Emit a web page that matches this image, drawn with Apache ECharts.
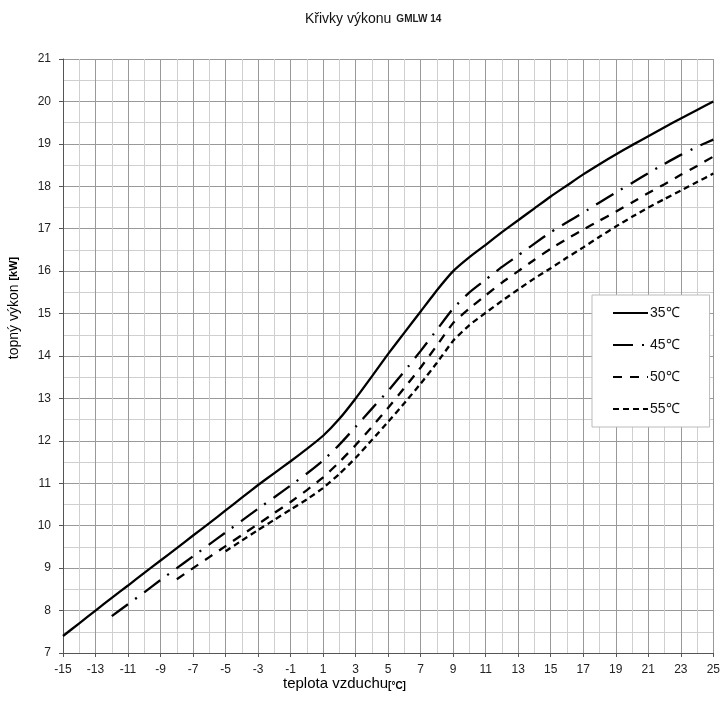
<!DOCTYPE html>
<html>
<head>
<meta charset="utf-8">
<title>Křivky výkonu GMLW 14</title>
<script src="https://cdn.jsdelivr.net/npm/echarts@6/dist/echarts.min.js"></script>
<style>
  html, body { margin: 0; padding: 0; background: #fff; }
  #chart { width: 723px; height: 714px; }
</style>
</head>
<body>
<div id="chart"></div>
<script>
// outside temperature [°C], one point per degree
const temps = [-15, -14, -13, -12, -11, -10, -9, -8, -7, -6, -5, -4, -3, -2, -1, 0, 1, 2, 3, 4,
  5, 6, 7, 8, 9, 10, 11, 12, 13, 14, 15, 16, 17, 18, 19, 20, 21, 22, 23, 24, 25];

// heating output [kW] per flow temperature (null = curve not defined there)
const out35 = [7.40, 7.70, 8.00, 8.30, 8.59, 8.89, 9.18, 9.47, 9.77, 10.06, 10.36, 10.66, 10.96, 11.24, 11.52,
  11.81, 12.12, 12.52, 13.00, 13.52, 14.05, 14.55, 15.05, 15.55, 16.00, 16.33, 16.62, 16.92, 17.20, 17.48,
  17.76, 18.02, 18.28, 18.52, 18.75, 18.97, 19.18, 19.39, 19.60, 19.80, 20.00];
const out45 = [null, null, null, 7.87, 8.15, 8.43, 8.72, 9.00, 9.28, 9.56, 9.84, 10.12, 10.40, 10.67, 10.95,
  11.23, 11.54, 11.91, 12.33, 12.76, 13.18, 13.64, 14.12, 14.62, 15.12, 15.50, 15.80, 16.10, 16.37, 16.65,
  16.92, 17.15, 17.38, 17.62, 17.85, 18.08, 18.31, 18.53, 18.74, 18.93, 19.10];
const out50 = [null, null, null, null, null, null, null, 8.74, 9.00, 9.26, 9.52, 9.78, 10.04, 10.30, 10.56,
  10.84, 11.14, 11.50, 11.90, 12.33, 12.78, 13.25, 13.73, 14.25, 14.78, 15.12, 15.43, 15.73, 16.00, 16.27,
  16.53, 16.76, 16.98, 17.19, 17.40, 17.62, 17.84, 18.05, 18.27, 18.48, 18.70];
const out55 = [null, null, null, null, null, null, null, null, null, null, 9.40, 9.65, 9.90, 10.14, 10.38,
  10.62, 10.89, 11.22, 11.60, 12.02, 12.45, 12.89, 13.35, 13.84, 14.36, 14.73, 15.02, 15.30, 15.57, 15.83,
  16.07, 16.32, 16.56, 16.81, 17.05, 17.28, 17.50, 17.70, 17.90, 18.10, 18.30];

const seriesNames = ["35℃", "45℃", "50℃", "55℃"];

const font = "Liberation Sans, Arial, sans-serif";
const chart = echarts.init(document.getElementById("chart"));

const pairs = (vals) => temps.map((t, i) => [t, vals[i]]).filter((p) => p[1] !== null);

const makeLine = (name, vals, dash) => ({
  name: name,
  type: "line",
  data: pairs(vals),
  symbol: "none",
  smooth: 0.15,
  color: "#000",
  lineStyle: { color: "#000", width: 2.3, type: dash, cap: "butt" },
  animation: false,
});

const options = {
  animation: false,
  title: {
    text: "{a|Křivky výkonu} {b|GMLW 14}",
    left: 300,
    top: 5,
    textStyle: {
      fontWeight: "normal",
      rich: {
        a: { fontFamily: font, fontSize: 14, fontWeight: "normal", color: "#111" },
        b: { fontFamily: font, fontSize: 10, fontWeight: "bold", color: "#222" },
      },
    },
  },
  grid: { left: 63, right: 5, top: 59, bottom: 61, containLabel: false },
  legend: {
    orient: "vertical",
    left: 592,
    top: 295,
    padding: [11, 30, 11, 20],
    itemWidth: 35,
    itemHeight: 14,
    itemGap: 18,
    backgroundColor: "#fff",
    borderColor: "#bbb",
    borderWidth: 1,
    itemStyle: { opacity: 0 },
    textStyle: { fontFamily: font, fontSize: 14, color: "#111", padding: [0, 0, 0, -3] },
    data: seriesNames,
  },
  xAxis: {
    type: "value",
    min: -15,
    max: 25,
    interval: 2,
    axisLine: { show: true, onZero: false, lineStyle: { color: "#555", width: 1 } },
    axisTick: { show: true, length: 4, lineStyle: { color: "#555" } },
    axisLabel: { fontFamily: font, fontSize: 12, color: "#222", margin: 11 },
    splitLine: { show: true, lineStyle: { color: "#999", width: 1 } },
    minorTick: { show: false, splitNumber: 2 },
    minorSplitLine: { show: true, lineStyle: { color: "#cfcfcf", width: 1 } },
  },
  yAxis: {
    type: "value",
    min: 7,
    max: 21,
    interval: 1,
    axisLine: { show: true, onZero: false, lineStyle: { color: "#555", width: 1 } },
    axisTick: { show: true, length: 4, lineStyle: { color: "#555" } },
    axisLabel: { fontFamily: font, fontSize: 12, color: "#222", margin: 12 },
    splitLine: { show: true, lineStyle: { color: "#999", width: 1 } },
    minorTick: { show: false, splitNumber: 2 },
    minorSplitLine: { show: true, lineStyle: { color: "#cfcfcf", width: 1 } },
  },
  graphic: [
    {
      type: "text",
      left: 283,
      top: 676,
      style: {
        text: "{a|teplota vzduchu}{b|[°C]}",
        rich: {
          a: { fontFamily: font, fontSize: 15, color: "#111", padding: [0, 0, 5, 0] },
          b: { fontFamily: font, fontSize: 10, fontWeight: "bold", color: "#222" },
        },
      },
    },
    {
      type: "text",
      x: 14,
      y: 308,
      rotation: Math.PI / 2,
      style: {
        text: "{a|topný výkon }{b|[kW]}",
        align: "center",
        verticalAlign: "middle",
        rich: {
          a: { fontFamily: font, fontSize: 14, color: "#111" },
          b: { fontFamily: font, fontSize: 11, fontWeight: "bold", color: "#222" },
        },
      },
    },
  ],
  series: [
    makeLine(seriesNames[0], out35, "solid"),
    makeLine(seriesNames[1], out45, [20, 9, 2, 9]),
    makeLine(seriesNames[2], out50, [9, 8]),
    makeLine(seriesNames[3], out55, [6, 4]),
  ],
};

chart.setOption(options);
</script>
</body>
</html>
